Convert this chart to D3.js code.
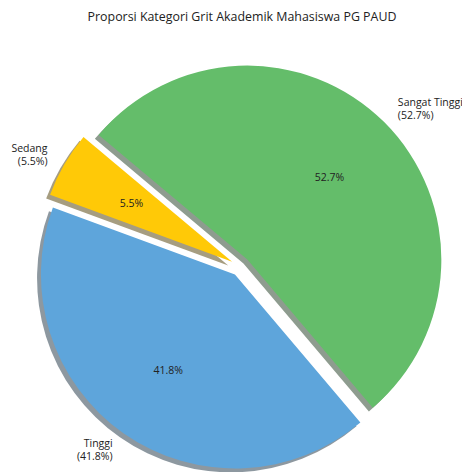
<!DOCTYPE html>
<html>
<head>
<meta charset="utf-8">
<script src="https://cdn.jsdelivr.net/npm/d3@7/dist/d3.min.js"></script>
<style>
  html, body { margin: 0; padding: 0; background: #fff; }
  svg { display: block; }
  text { font-family: "Open Sans", "Noto Sans", sans-serif; fill: #222; }
</style>
</head>
<body>
<svg id="chart" width="462" height="472"></svg>
<script>
const categories = ["Sangat Tinggi", "Tinggi", "Sedang"];
const values = [52.7, 41.8, 5.5];
const colors = ["#64BD6A", "#5EA5DB", "#FFC907"];
const explode = [0.05, 0.05, 0.05];
const title = "Proporsi Kategori Grit Akademik Mahasiswa PG PAUD";

const W = 462, H = 472;
const cx = 240.5, cy = 266.5, R = 194;
const svg = d3.select("#chart");

const data = categories.map((c, i) => ({ cat: c, value: values[i], color: colors[i], ex: explode[i] }));
const deg = Math.PI / 180;
const pie = d3.pie().value(d => d.value).sort(null)
  .startAngle(-50 * deg).endAngle(310 * deg);
const arcs = pie(data);
const arc = d3.arc().innerRadius(0).outerRadius(R);

const g = svg.append("g").attr("transform", `translate(${cx},${cy})`);

function offset(a) {
  const m = (a.startAngle + a.endAngle) / 2;
  const e = a.data.ex * R;
  return [Math.sin(m) * e, -Math.cos(m) * e, m];
}

const sh = 0.02 * R;
// shadows
g.selectAll("path.shadow").data(arcs).join("path")
  .attr("class", "shadow")
  .attr("d", arc)
  .attr("transform", d => { const [x, y] = offset(d); return `translate(${x - sh},${y + sh})`; })
  .attr("fill", d => { const c = d3.rgb(d.data.color); return d3.rgb(c.r * 0.3, c.g * 0.3, c.b * 0.3); })
  .attr("opacity", 0.5);

// wedges
g.selectAll("path.wedge").data(arcs).join("path")
  .attr("class", "wedge")
  .attr("d", arc)
  .attr("transform", d => { const [x, y] = offset(d); return `translate(${x},${y})`; })
  .attr("fill", d => d.data.color);

// percentage labels
g.selectAll("text.pct").data(arcs).join("text")
  .attr("class", "pct")
  .attr("x", d => { const [x, y, m] = offset(d); return x + Math.sin(m) * R * 0.6; })
  .attr("y", d => { const [x, y, m] = offset(d); return y - Math.cos(m) * R * 0.6; })
  .attr("text-anchor", "middle")
  .attr("dominant-baseline", "central")
  .attr("font-size", 10.5)
  .text(d => d.data.value.toFixed(1) + "%");

// outer labels
const lab = g.selectAll("text.lab").data(arcs).join("text")
  .attr("class", "lab")
  .attr("font-size", 10.5)
  .attr("text-anchor", d => { const m = (d.startAngle + d.endAngle) / 2; return Math.sin(m) > 0 ? "start" : "end"; })
  .attr("transform", d => { const [x, y, m] = offset(d); return `translate(${x + Math.sin(m) * R * 1.1},${y - Math.cos(m) * R * 1.1})`; });
lab.append("tspan").attr("x", 0).attr("y", -6.5).attr("dominant-baseline", "central").text(d => d.data.cat);
lab.append("tspan").attr("x", 0).attr("y", 6.5).attr("dominant-baseline", "central").text(d => "(" + d.data.value.toFixed(1) + "%)");

svg.append("text")
  .attr("x", 242).attr("y", 16)
  .attr("text-anchor", "middle")
  .attr("dominant-baseline", "central")
  .attr("font-size", 12.4)
  .text(title);
</script>
</body>
</html>
